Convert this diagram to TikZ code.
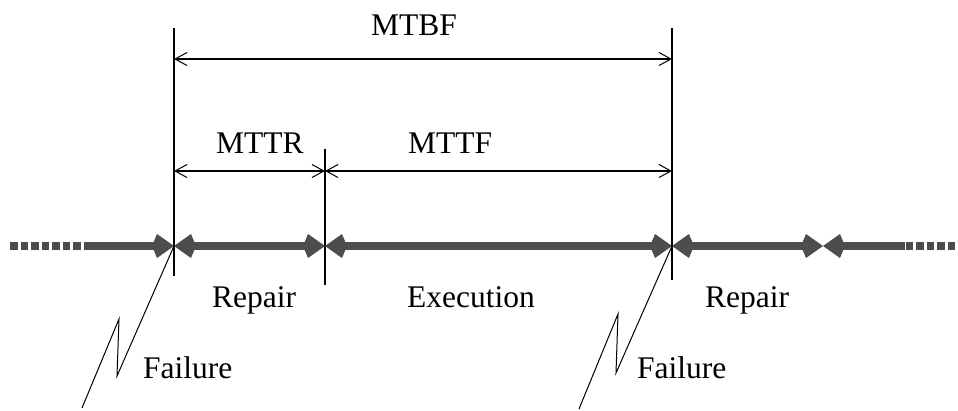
\documentclass[tikz,border=0pt]{standalone}
\usepackage{fontspec}
\setmainfont{Liberation Serif}
\usetikzlibrary{arrows.meta}
\definecolor{barcol}{HTML}{4D4D4D}
\begin{document}
\begin{tikzpicture}[x=1pt,y=-1pt,
  lbl/.style={anchor=base west, inner sep=0pt, font=\fontsize{31.5}{36}\selectfont},
  guide/.style={line width=2.2pt},
  barb/.tip={Straight Barb[length=12pt,width=13pt,line width=1pt]},
  kt/.tip={Kite[length=22pt,width=24pt,inset=5pt]},
  dim/.style={line width=2.2pt, barb-barb},
  bar/.style={line width=8.5pt, draw=barcol, fill=barcol, kt-kt},
  barin/.style={line width=8pt, draw=barcol, fill=barcol, -kt},
  bardash/.style={line width=8.5pt, draw=barcol, dash pattern=on 7.5pt off 3pt},
  bolt/.style={line width=1pt, line join=miter}
]
\useasboundingbox (0,0) rectangle (958,410);

% time markers on the axis
\coordinate (aL) at (174,246);
\coordinate (aM) at (325,246);
\coordinate (aR) at (672,246);
\coordinate (aE) at (823,246);

% vertical guide lines
\coordinate (gLt) at (174,28);
\coordinate (gLb) at (174,276);
\coordinate (gMt) at (325,149);
\coordinate (gMb) at (325,285);
\coordinate (gRt) at (672,28);
\coordinate (gRb) at (672,280);
\draw[guide] (gLt) -- (gLb);
\draw[guide] (gMt) -- (gMb);
\draw[guide] (gRt) -- (gRb);

% dimension arrows
\coordinate (dL1) at (174,59);
\coordinate (dR1) at (672,59);
\coordinate (dL2) at (174,171);
\coordinate (dM2) at (325,171);
\coordinate (dR2) at (672,171);
\draw[dim] (dL1) -- (dR1);
\draw[dim] (dL2) -- (dM2);
\draw[dim] (dM2) -- (dR2);

\node[lbl] (mtbf) at (371,35) {MTBF};
\node[lbl] (mttr) at (216,153) {MTTR};
\node[lbl] (mttf) at (408,153) {MTTF};

% time axis
\coordinate (inL0) at (10,246);
\coordinate (inL1) at (85,246);
\coordinate (inR0) at (955,246);
\coordinate (inR1) at (905,246);
\draw[bardash] (inL0) -- (inL1);
\draw[barin] (inL1) -- (aL);
\draw[bar] (aL) -- (aM);
\draw[bar] (aM) -- (aR);
\draw[bar] (aR) -- (aE);
\draw[barin] (inR1) -- (aE);
\draw[bardash] (inR0) -- (inR1);

\node[lbl] (rep1) at (212,307) {Repair};
\node[lbl] (exec) at (407,307) {Execution};
\node[lbl] (rep2) at (705,307) {Repair};

% failure bolts
\coordinate (fL1) at (117,376);
\coordinate (fL2) at (119,319);
\coordinate (fL3) at (82,408);
\coordinate (fR1) at (616,373);
\coordinate (fR2) at (618,314);
\coordinate (fR3) at (579,409);
\draw[bolt] (aL) -- (fL1) -- (fL2) -- (fL3);
\draw[bolt] (aR) -- (fR1) -- (fR2) -- (fR3);

\node[lbl] (fail1) at (143,378) {Failure};
\node[lbl] (fail2) at (637,378) {Failure};
\end{tikzpicture}
\end{document}
